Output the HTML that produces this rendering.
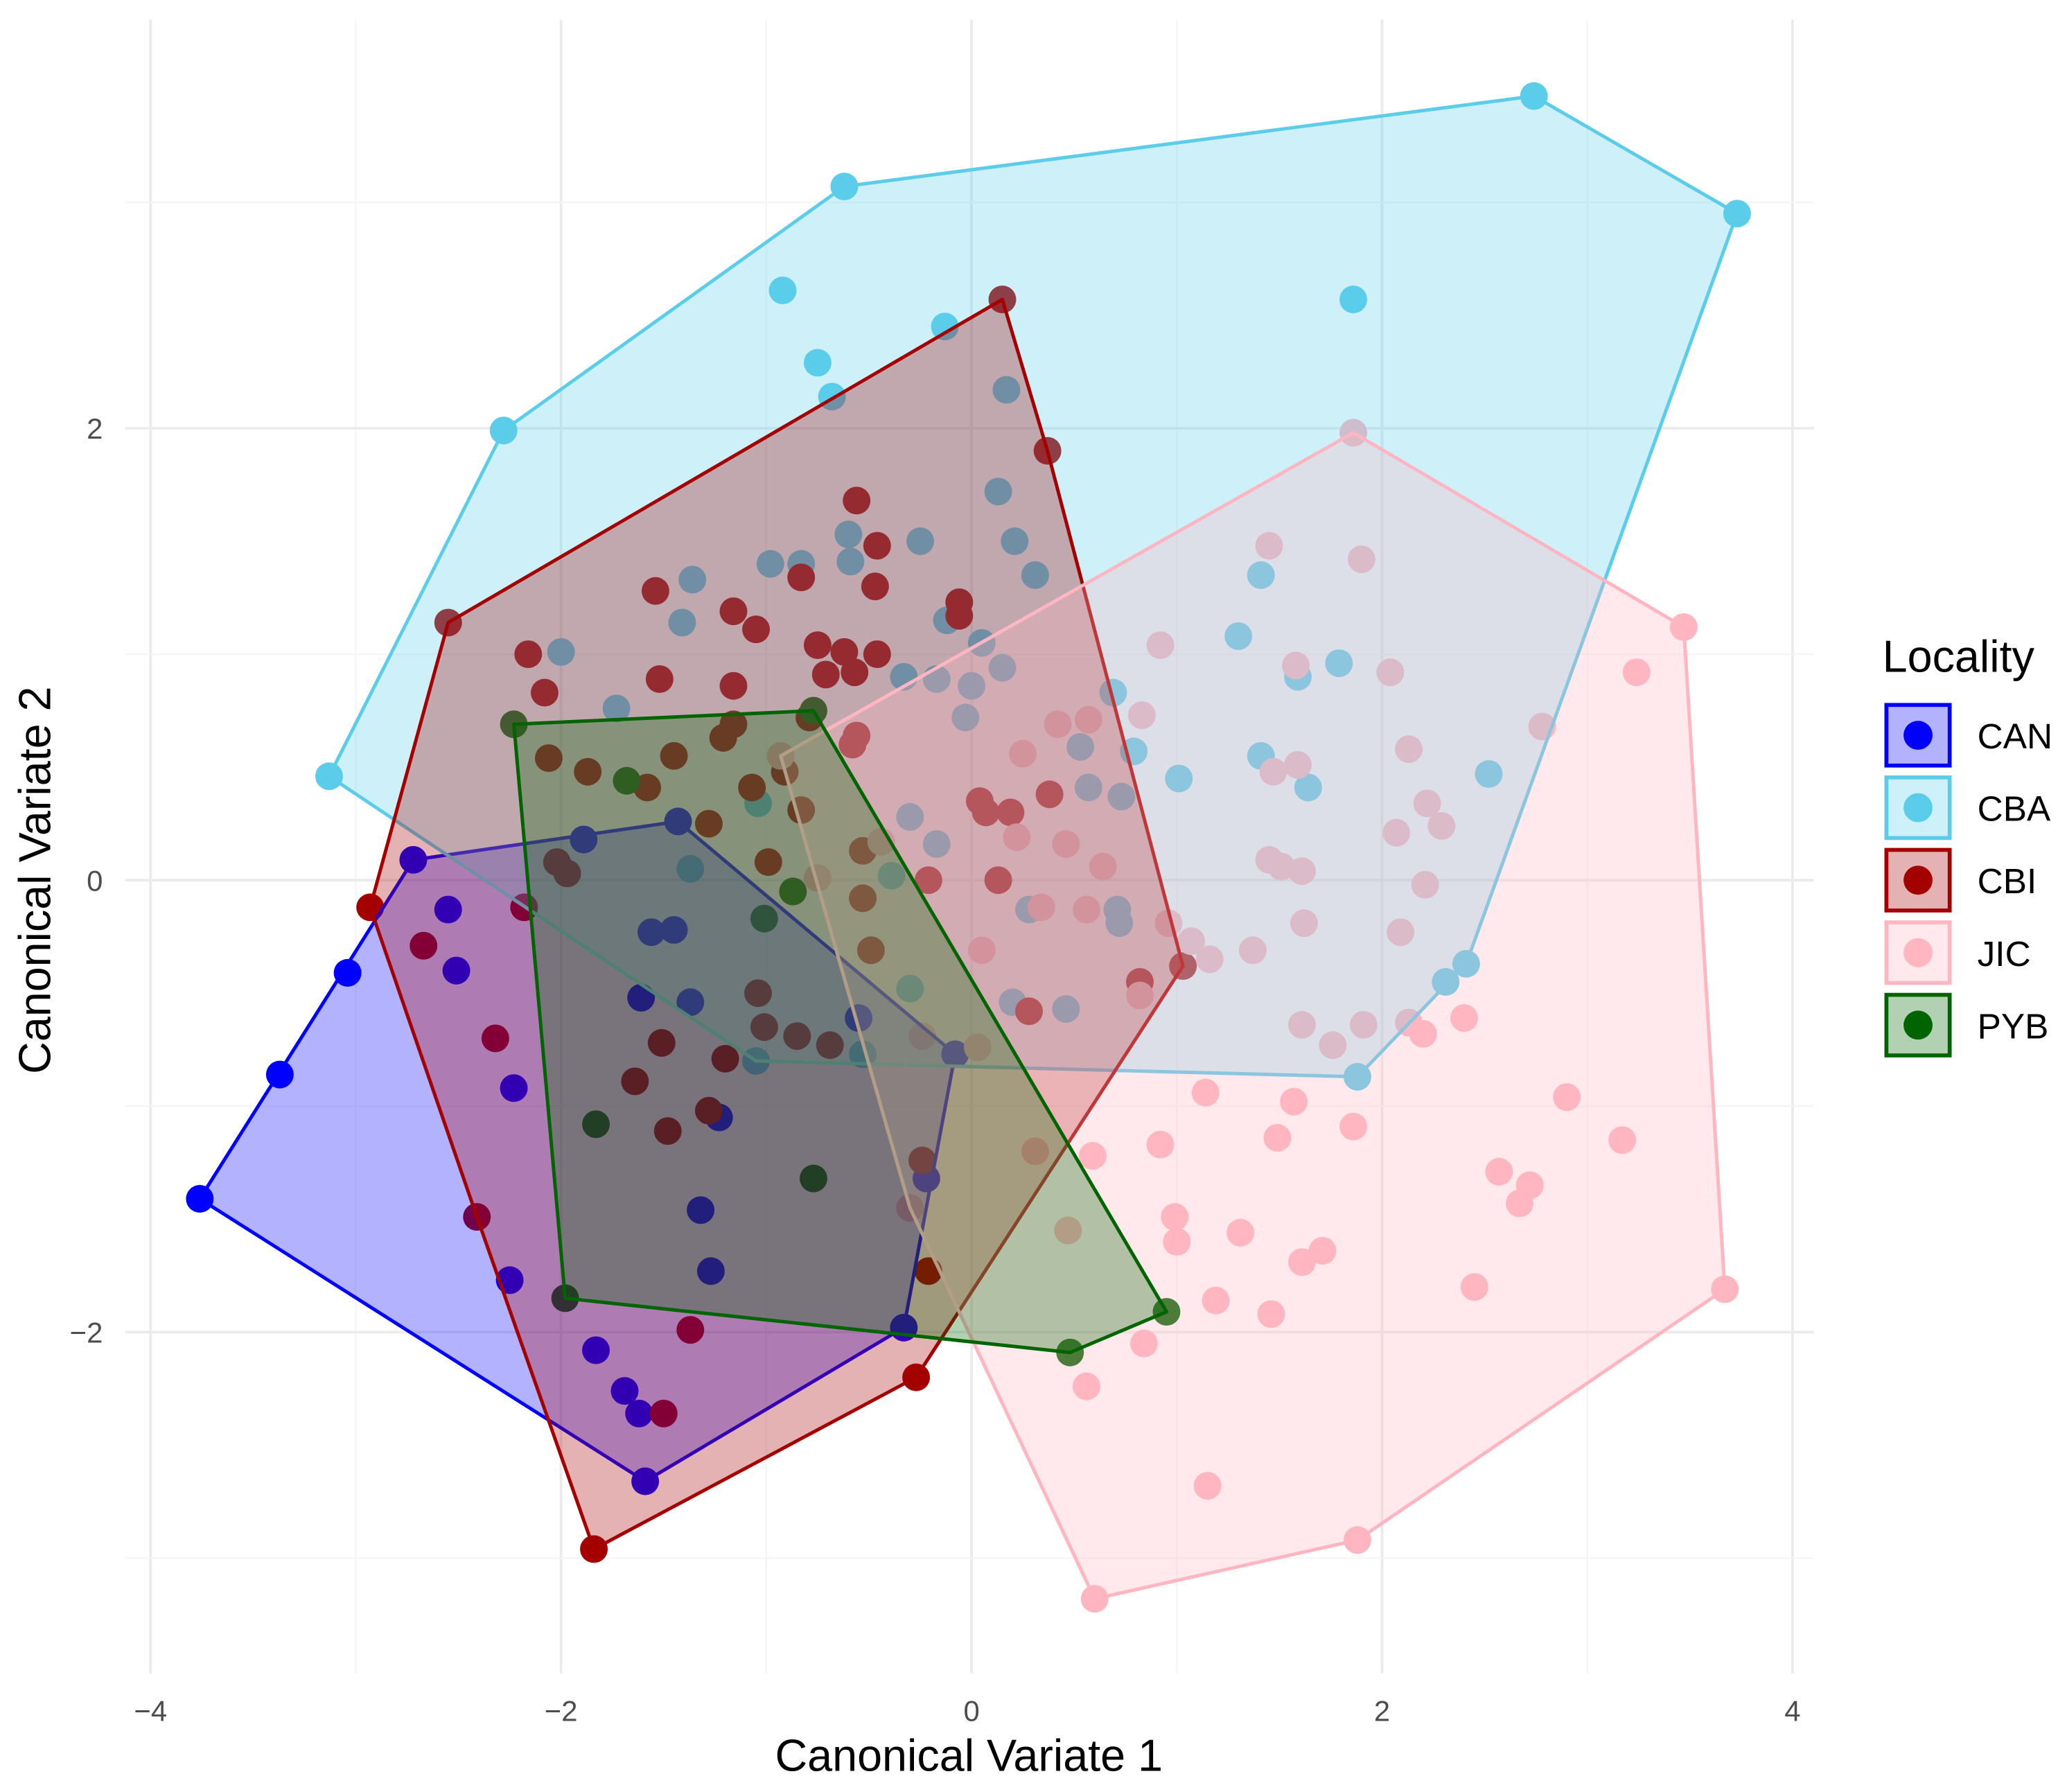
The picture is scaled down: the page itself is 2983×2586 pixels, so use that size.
<!DOCTYPE html>
<html><head><meta charset="utf-8"><style>
html,body{margin:0;padding:0;background:#fff}
svg{display:block}
text{font-family:"Liberation Sans",Arial,sans-serif}
</style></head><body>
<svg id="chart" width="2983" height="2586" viewBox="0 0 1568 1360" preserveAspectRatio="none" xmlns="http://www.w3.org/2000/svg">
<g id="grid"></g>
<g id="pts"></g>
<g id="polys"></g>
<g id="axes"></g>
<g id="legend"></g>
</svg>
<script>
const groups = ["CAN","CBA","CBI","JIC","PYB"];
const strokeColors = ["#0000FF","#5BCDEB","#A50000","#FFB6C1","#006400"];
const xTicks = [-4,-2,0,2,4];
const yTicks = [-2,0,2];
const CAN = [[-3.76,-1.41],[-3.37,-0.86],[-3.04,-0.41],[-2.72,0.09],[-2.55,-0.13],[-2.51,-0.40],[-2.23,-0.92],[-2.25,-1.77],[-1.89,0.18],[-1.43,0.26],[-1.56,-0.23],[-1.45,-0.22],[-1.61,-0.52],[-1.37,-0.54],[-1.23,-1.05],[-1.32,-1.46],[-1.27,-1.73],[-1.83,-2.08],[-1.69,-2.26],[-1.62,-2.36],[-1.59,-2.66],[-0.33,-1.98],[-0.22,-1.32],[-0.55,-0.61],[-0.08,-0.77]];
const CBA = [[-3.13,0.46],[-2.28,1.99],[-0.62,3.07],[2.74,3.47],[3.73,2.95],[2.31,-0.45],[1.88,-0.87],[2.41,-0.37],[-0.92,2.61],[-0.13,2.45],[-0.75,2.29],[-0.68,2.14],[1.86,2.57],[1.30,1.08],[1.41,1.35],[1.41,0.55],[1.79,0.96],[1.59,0.90],[1.64,0.41],[2.52,0.47],[1.01,0.45],[0.79,0.57],[0.69,0.83],[0.53,0.59],[0.57,0.41],[0.73,0.37],[0.71,-0.13],[0.72,-0.19],[0.28,-0.13],[0.20,-0.54],[0.46,-0.57],[-0.53,-0.77],[-1.05,-0.80],[-1.04,0.34],[-1.37,0.05],[-1.73,0.76],[-2.00,1.01],[-1.41,1.14],[-1.36,1.33],[-0.98,1.40],[-0.83,1.40],[-0.60,1.53],[-0.59,1.41],[-0.25,1.50],[0.13,1.72],[0.17,2.17],[0.21,1.50],[0.31,1.35],[-0.12,1.15],[0.05,1.05],[0.15,0.94],[0.00,0.86],[-0.03,0.72],[-0.17,0.89],[-0.33,0.90],[-0.30,0.28],[-0.17,0.16],[-0.30,-0.48],[-0.39,0.02]];
const CBI = [[-2.93,-0.12],[-2.55,1.14],[0.15,2.57],[0.37,1.90],[1.03,-0.38],[-0.27,-2.20],[-1.84,-2.96],[-1.50,-2.36],[-1.37,-1.99],[-2.41,-1.49],[-2.32,-0.70],[-2.67,-0.29],[-2.18,-0.12],[-2.16,1.00],[-2.08,0.83],[-2.02,0.08],[-1.97,0.03],[-1.54,1.28],[-1.52,0.89],[-1.16,1.19],[-1.05,1.11],[-1.16,0.86],[-0.83,1.34],[-0.56,1.68],[-0.46,1.48],[-0.47,1.30],[-0.75,1.04],[-0.62,1.01],[-0.46,1.00],[-0.71,0.91],[-0.57,0.92],[-0.06,1.23],[-0.06,1.17],[-0.56,0.64],[-0.58,0.60],[-0.79,0.72],[-0.91,0.48],[-1.21,0.63],[-1.16,0.69],[-1.07,0.41],[-1.45,0.55],[-1.58,0.41],[-1.87,0.48],[-2.06,0.54],[-1.28,0.25],[-0.99,0.08],[-0.83,0.31],[-0.53,0.13],[-0.53,-0.08],[-0.49,-0.31],[-1.04,-0.50],[-1.01,-0.65],[-0.85,-0.69],[-0.69,-0.73],[-1.20,-0.79],[-1.51,-0.72],[-1.64,-0.89],[-1.48,-1.11],[-1.28,-1.02],[-0.24,-1.24],[-0.21,-1.73],[-0.21,0.00],[0.04,0.35],[0.07,0.30],[0.19,0.30],[0.13,0.00],[0.38,0.38],[0.28,-0.58],[0.82,-0.45]];
const JIC = [[1.86,1.98],[3.47,1.12],[3.67,-1.81],[1.88,-2.92],[0.60,-3.18],[-0.93,0.55],[1.15,-2.68],[0.56,-2.24],[0.84,-2.05],[1.19,-1.86],[1.46,-1.92],[1.61,-1.69],[1.71,-1.64],[1.31,-1.56],[0.99,-1.49],[1.00,-1.60],[0.47,-1.55],[0.92,-1.17],[0.59,-1.22],[1.49,-1.14],[1.86,-1.09],[1.57,-0.98],[1.14,-0.94],[2.90,-0.96],[3.17,-1.15],[2.57,-1.29],[2.72,-1.35],[2.67,-1.43],[2.45,-1.80],[2.40,-0.61],[2.20,-0.68],[2.13,-0.63],[1.91,-0.64],[1.76,-0.73],[1.61,-0.64],[2.09,-0.23],[2.21,-0.02],[1.62,-0.19],[1.37,-0.31],[1.16,-0.35],[1.07,-0.27],[0.96,-0.19],[0.82,-0.51],[1.45,0.09],[1.51,0.06],[1.61,0.04],[2.07,0.21],[2.29,0.24],[2.22,0.34],[2.13,0.58],[2.78,0.68],[3.24,0.92],[2.04,0.92],[1.58,0.95],[1.45,1.48],[1.90,1.42],[0.92,1.04],[0.83,0.73],[1.47,0.48],[1.59,0.51],[0.64,0.06],[0.46,0.16],[0.56,-0.13],[0.34,-0.12],[0.22,0.19],[0.05,-0.31],[0.25,0.56],[0.42,0.69],[0.57,0.71],[-0.75,0.01],[-0.44,0.17],[0.03,-0.74],[-0.24,-0.69],[-0.30,-1.45],[0.31,-1.20]];
const PYB = [[-2.23,0.69],[-0.77,0.75],[0.95,-1.91],[0.48,-2.09],[-1.98,-1.85],[-1.68,0.44],[-0.87,-0.05],[-1.01,-0.17],[-1.83,-1.08],[-0.77,-1.32]];
const series = [CAN,CBA,CBI,JIC,PYB];

const NS="http://www.w3.org/2000/svg";
const X0=737, XS=155.7, Y0=668, YS=171.5;
function sx(v){return X0+v*XS;}
function sy(v){return Y0-v*YS;}
function mk(tag,attrs,parent){const e=document.createElementNS(NS,tag);for(const k in attrs)e.setAttribute(k,attrs[k]);parent.appendChild(e);return e;}
const grid=document.getElementById('grid'),pts=document.getElementById('pts'),polys=document.getElementById('polys'),axes=document.getElementById('axes'),legend=document.getElementById('legend');
const PL=95,PR=1376,PT=15,PB=1270;
for(let v=-4;v<=4;v++){
  const g=mk('line',{x1:sx(v),x2:sx(v),y1:PT,y2:PB,stroke:v%2===0?'#EBEBEB':'#F5F5F5','stroke-width':v%2===0?2:1.2},grid);
  
  
}
for(let v=-3;v<=3;v++){
  const g=mk('line',{x1:PL,x2:PR,y1:sy(v),y2:sy(v),stroke:v%2===0?'#EBEBEB':'#F5F5F5','stroke-width':v%2===0?2:1.2},grid);
  
  
}
function hull(p){
  const a=p.slice().sort((u,v)=>u[0]-v[0]||u[1]-v[1]);
  const cr=(o,a1,b)=>(a1[0]-o[0])*(b[1]-o[1])-(a1[1]-o[1])*(b[0]-o[0]);
  const lo=[],up=[];
  for(const q of a){while(lo.length>=2&&cr(lo[lo.length-2],lo[lo.length-1],q)<=0)lo.pop();lo.push(q);}
  for(let i=a.length-1;i>=0;i--){const q=a[i];while(up.length>=2&&cr(up[up.length-2],up[up.length-1],q)<=0)up.pop();up.push(q);}
  up.pop();lo.pop();return lo.concat(up);
}
series.forEach((s,i)=>{
  s.forEach(d=>{
    const c=mk('circle',{cx:sx(d[0]),cy:sy(d[1]),r:10.5,fill:strokeColors[i]},pts);
    
    
  });
});
series.forEach((s,i)=>{
  const h=hull(s);
  const p=mk('polygon',{points:h.map(d=>sx(d[0])+','+sy(d[1])).join(' '),fill:strokeColors[i],'fill-opacity':0.3,stroke:strokeColors[i],'stroke-width':2.6,'stroke-linejoin':'round'},polys);
  
  
});
xTicks.forEach(v=>{
  const t=mk('text',{x:sx(v),y:1306,'text-anchor':'middle','font-size':22,fill:'#4D4D4D'},axes);
  t.textContent=String(v).replace('-','\u2212');
  
  
});
yTicks.forEach(v=>{
  const t=mk('text',{x:78,y:sy(v)+8,'text-anchor':'end','font-size':22,fill:'#4D4D4D'},axes);
  t.textContent=String(v).replace('-','\u2212');
  
  
});
const xt=mk('text',{x:735,y:1344,'text-anchor':'middle','font-size':34,fill:'#000'},axes);
xt.textContent='Canonical Variate 1';


const yt=mk('text',{x:0,y:0,'text-anchor':'middle','font-size':34,fill:'#000',transform:'translate(38,668) rotate(-90)'},axes);
yt.textContent='Canonical Variate 2';


const lt=mk('text',{x:1428,y:510,'font-size':34,fill:'#000'},legend);
lt.textContent='Locality';


groups.forEach((g,i)=>{
  const y=535+i*55;
  const gg=mk('g',{},legend);
  
  
  mk('rect',{x:1431,y:y,width:48,height:46,fill:'#fff',stroke:'none'},gg);
  mk('rect',{x:1431,y:y,width:48,height:46,fill:strokeColors[i],'fill-opacity':0.3,stroke:strokeColors[i],'stroke-width':3},gg);
  mk('circle',{cx:1455,cy:y+23,r:11,fill:strokeColors[i]},gg);
  const t=mk('text',{x:1500,y:y+33,'font-size':27,fill:'#000'},gg);
  t.textContent=g;
});
</script>
</body></html>
